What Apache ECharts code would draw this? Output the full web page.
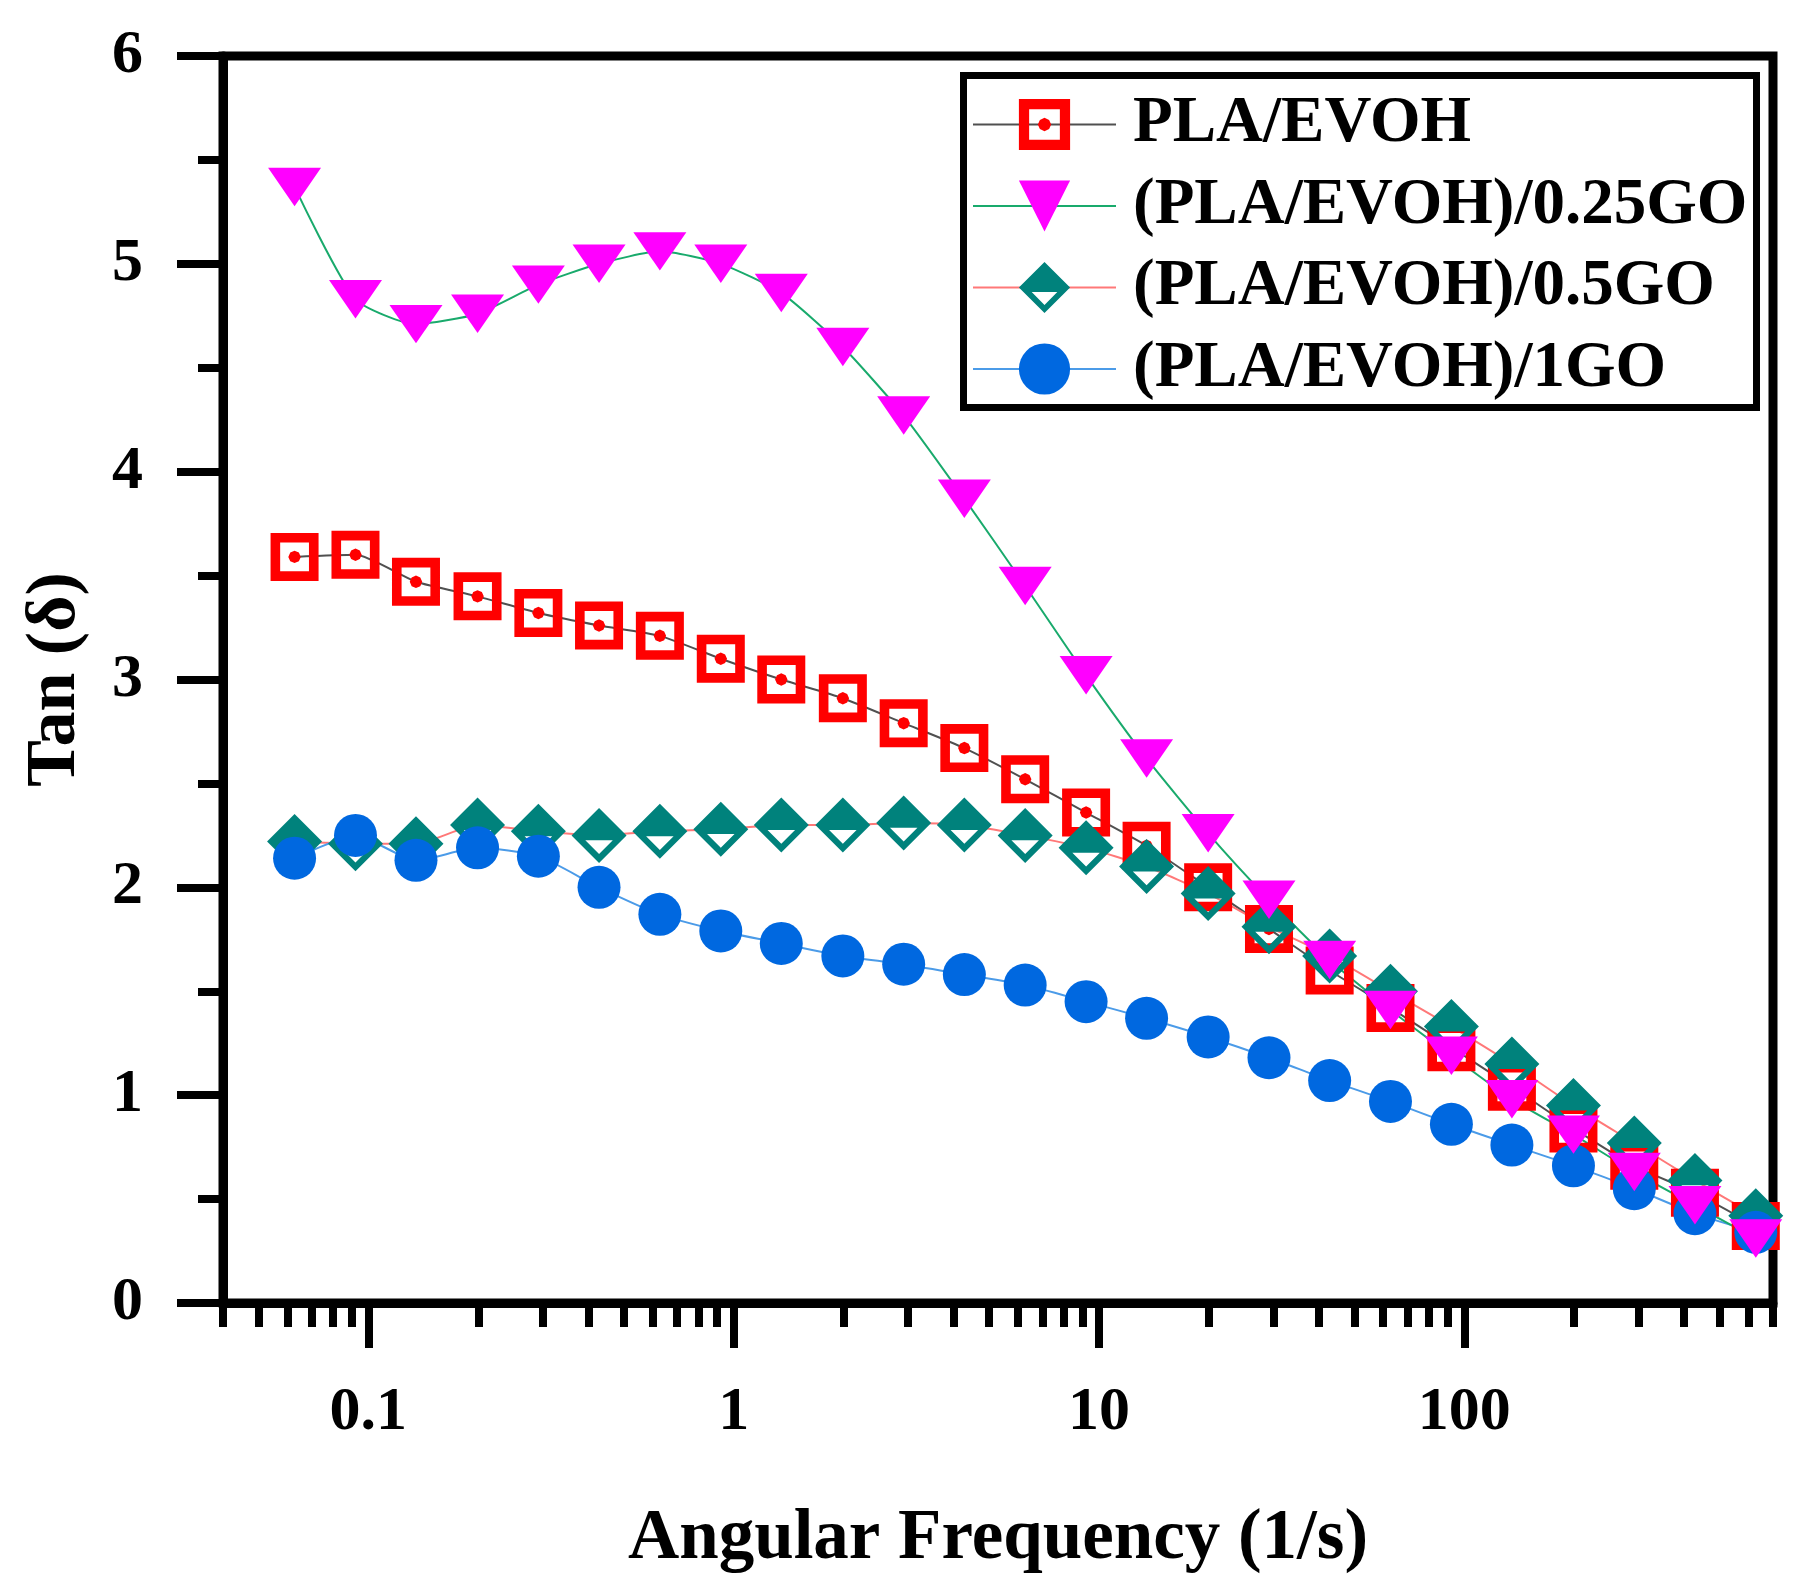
<!DOCTYPE html>
<html>
<head>
<meta charset="utf-8">
<title>Tan (δ) vs Angular Frequency</title>
<script src="https://cdn.jsdelivr.net/npm/echarts@6.0.0/dist/echarts.min.js"></script>
<style>
  html, body { margin: 0; padding: 0; background: #fff; }
  #chart { width: 1803px; height: 1593px; }
</style>
</head>
<body>
<div id="chart"></div>
<script>
// angular frequency (1/s)
var freq = [0.0628, 0.0922, 0.135, 0.199, 0.292, 0.428, 0.628, 0.922, 1.35, 1.99, 2.92, 4.28,
            6.28, 9.22, 13.5, 19.9, 29.2, 42.8, 62.8, 92.2, 135, 199, 292, 428, 628];

// tan(delta)
var plaEvoh = [3.59, 3.60, 3.47, 3.40, 3.32, 3.26, 3.21, 3.10, 3.00, 2.91, 2.79, 2.67,
               2.52, 2.36, 2.20, 2.00, 1.80, 1.60, 1.42, 1.23, 1.04, 0.84, 0.66, 0.53, 0.37];
var go025 = [5.37, 4.83, 4.71, 4.76, 4.90, 5.00, 5.06, 5.00, 4.86, 4.60, 4.27, 3.87,
             3.45, 3.02, 2.62, 2.26, 1.94, 1.65, 1.41, 1.19, 0.98, 0.81, 0.63, 0.47, 0.31];
var go05 = [2.22, 2.21, 2.21, 2.30, 2.27, 2.25, 2.27, 2.28, 2.30, 2.30, 2.31, 2.30,
            2.25, 2.19, 2.10, 1.97, 1.81, 1.67, 1.50, 1.33, 1.15, 0.95, 0.77, 0.59, 0.42];
var go1 = [2.14, 2.25, 2.13, 2.19, 2.15, 2.00, 1.87, 1.79, 1.73, 1.67, 1.63, 1.58,
           1.53, 1.45, 1.37, 1.28, 1.18, 1.07, 0.97, 0.86, 0.76, 0.66, 0.55, 0.43, 0.34];

var seriesNames = ['PLA/EVOH', '(PLA/EVOH)/0.25GO', '(PLA/EVOH)/0.5GO', '(PLA/EVOH)/1GO'];

// tick positions of the log axis
var xMajorTicks = [0.1, 1, 10, 100];
var xMinorTicks = [0.04, 0.05, 0.06, 0.07, 0.08, 0.09,
                   0.2, 0.3, 0.4, 0.5, 0.6, 0.7, 0.8, 0.9,
                   2, 3, 4, 5, 6, 7, 8, 9,
                   20, 30, 40, 50, 60, 70, 80, 90,
                   200, 300, 400, 500, 600, 700];

function pairs(ys) {
    return ys.map(function (y, i) { return [freq[i], y]; });
}

var font = 'Liberation Serif';

// 符号
var squareDot = 'path://M-1,-1L1,-1L1,1L-1,1ZM-0.6,-0.6L-0.6,0.6L0.6,0.6L0.6,-0.6Z' +
    'M0.26,0L0.18,0.18L0,0.26L-0.18,0.18L-0.26,0L-0.18,-0.18L0,-0.26L0.18,-0.18Z';
var triDown = 'path://M0,0L48,0L24,41Z';
var halfDiamond = 'path://M0,-1L1,0L0,1L-1,0ZM-0.5,0.18L0,0.68L0.5,0.18Z';

var myChart = echarts.init(document.getElementById('chart'));

var option = {
    animation: false,
    backgroundColor: '#fff',
    grid: {
        left: 223, right: 30, top: 56, bottom: 290,
        show: true, borderColor: '#000', borderWidth: 9,
        containLabel: false, outerBoundsMode: 'none'
    },
    legend: {
        data: seriesNames,
        orient: 'vertical',
        left: 972, top: 92,
        padding: 0,
        itemWidth: 143, itemHeight: 64, itemGap: 16.5,
        selectedMode: false,
        textStyle: {
            fontFamily: font, fontWeight: 'bold', fontSize: 65, color: '#000',
            lineHeight: 64, padding: [0, 0, 0, 12]
        }
    },
    graphic: [{
        type: 'rect',
        shape: { x: 963.5, y: 75.5, width: 793, height: 332 },
        style: { fill: 'none', stroke: '#000', lineWidth: 7 },
        z: 10
    }],
    xAxis: [{
        type: 'log', logBase: 10, min: 0.04, max: 700,
        axisLine: { show: true, lineStyle: { color: '#000', width: 9 } },
        axisTick: { show: true, length: 45, lineStyle: { color: '#000', width: 8 }, customValues: xMajorTicks },
        axisLabel: {
            customValues: xMajorTicks, margin: 79,
            fontFamily: font, fontWeight: 'bold', fontSize: 62, color: '#000',
            formatter: function (v) { return String(+(+v).toPrecision(3)); }
        },
        splitLine: { show: false },
        name: 'Angular Frequency (1/s)',
        nameLocation: 'middle', nameGap: 201,
        nameTextStyle: { fontFamily: font, fontWeight: 'bold', fontSize: 71, color: '#000' }
    }, {
        type: 'log', logBase: 10, min: 0.04, max: 700,
        position: 'bottom',
        axisLine: { show: false },
        axisTick: { show: true, length: 24, lineStyle: { color: '#000', width: 8 }, customValues: xMinorTicks },
        axisLabel: { show: false },
        splitLine: { show: false }
    }],
    yAxis: {
        type: 'value', min: 0, max: 6, interval: 1,
        axisLine: { show: true, lineStyle: { color: '#000', width: 9 } },
        axisTick: { show: true, length: 46, lineStyle: { color: '#000', width: 8 } },
        minorTick: { show: true, splitNumber: 2, length: 25, lineStyle: { color: '#000', width: 8 } },
        axisLabel: { margin: 80, fontFamily: font, fontWeight: 'bold', fontSize: 62, color: '#000' },
        splitLine: { show: false },
        name: 'Tan (δ)',
        nameLocation: 'middle', nameGap: 132, nameRotate: 90,
        nameTextStyle: { fontFamily: font, fontWeight: 'bold', fontSize: 70, color: '#000' }
    },
    series: [
        {
            name: seriesNames[0], type: 'line', smooth: 0.2,
            data: pairs(plaEvoh),
            symbol: squareDot, symbolSize: 48, symbolKeepAspect: true,
            itemStyle: { color: '#ff0000' },
            lineStyle: { color: '#505050', width: 2 }
        },
        {
            name: seriesNames[2], type: 'line', smooth: 0.2,
            data: pairs(go05),
            symbol: halfDiamond, symbolSize: 55, symbolKeepAspect: true,
            itemStyle: { color: '#00827c' },
            lineStyle: { color: '#ff7878', width: 2 }
        },
        {
            name: seriesNames[3], type: 'line', smooth: 0.2,
            data: pairs(go1),
            symbol: 'circle', symbolSize: 43,
            itemStyle: { color: '#0068e0' },
            lineStyle: { color: '#4b9be8', width: 2 }
        },
        {
            name: seriesNames[1], type: 'line', smooth: 0.2,
            data: pairs(go025),
            symbol: triDown, symbolSize: [53, 45], symbolKeepAspect: true,
            itemStyle: { color: '#ff00ff' },
            lineStyle: { color: '#19aa6c', width: 2 }
        }
    ]
};

myChart.setOption(option);
</script>
</body>
</html>
